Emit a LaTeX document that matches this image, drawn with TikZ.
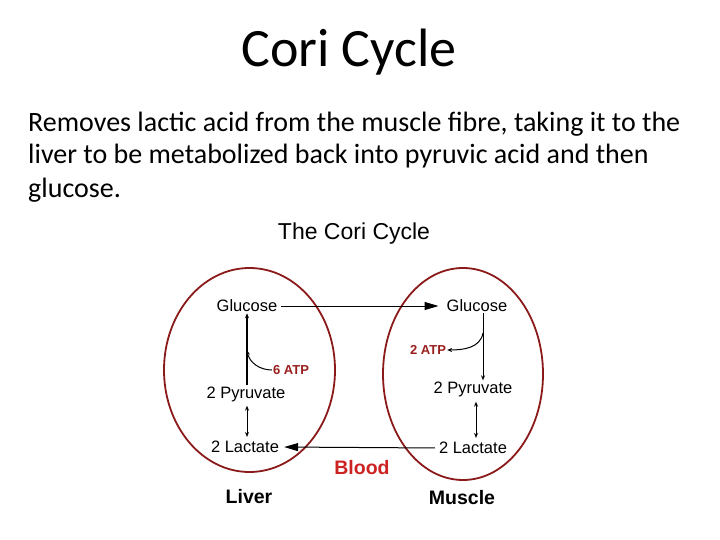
\documentclass[tikz,border=0pt]{standalone}
\usepackage{fontspec}
\setmainfont{Carlito}
\newfontfamily\arialf{Liberation Sans}
\usetikzlibrary{arrows.meta}
\definecolor{ellred}{HTML}{8B1A1A}
\definecolor{atpred}{HTML}{9A1E1E}
\definecolor{bloodred}{HTML}{CC2222}
\begin{document}
\begin{tikzpicture}[x=1pt,y=-1pt,
  lbl/.style={font=\arialf\fontsize{16.5}{18}\selectfont, inner sep=1pt},
  atp/.style={font=\arialf\bfseries\fontsize{13}{15}\selectfont, text=atpred, inner sep=1pt},
  organ/.style={font=\arialf\bfseries\fontsize{19.5}{22}\selectfont, inner sep=1pt},
  cell/.style={draw=ellred, line width=1.8pt},
  bigarrow/.style={-{Triangle[length=14pt,width=8pt]}, line width=1pt},
  smallarrow/.style={-{Stealth[length=5pt,width=4pt]}, line width=1pt},
  dblarrow/.style={{Stealth[length=5pt,width=4pt]}-{Stealth[length=5pt,width=4pt]}, line width=1pt}
]
\useasboundingbox (0,0) rectangle (720,540);
\node[font=\fontsize{54}{60}\selectfont] (title) at (349,52) {Cori Cycle};
\node[anchor=base west, align=left, inner sep=0pt, font=\fontsize{28}{33}\selectfont] (para) at (28,197)
  {Removes lactic acid from the muscle fibre, taking it to the\\liver to be metabolized back into pyruvic acid and then\\glucose.};
\node[font=\arialf\fontsize{23}{25}\selectfont] (dtitle) at (354,234) {The Cori Cycle};

\draw[cell] (249.5,370) ellipse [x radius=85.5, y radius=102];
\draw[cell] (463,374) ellipse [x radius=80, y radius=106];

\node[lbl] (gL) at (247,306) {Glucose};
\node[lbl] (pL) at (246,394) {2 Pyruvate};
\node[lbl] (lL) at (245,447) {2 Lactate};
\node[lbl] (gR) at (477,306) {Glucose};
\node[lbl] (pR) at (473,389) {2 Pyruvate};
\node[lbl] (lR) at (473,448) {2 Lactate};
\node[atp] (atp6) at (291,370) {6 ATP};
\node[atp] (atp2) at (428,350) {2 ATP};
\node[font=\arialf\bfseries\fontsize{19.5}{22}\selectfont, text=bloodred] (blood) at (362,468) {Blood};
\node[organ] (liver) at (249,497) {Liver};
\node[organ] (muscle) at (462,498) {Muscle};

% blood transport
\draw[bigarrow, shorten <=3pt, shorten >=7pt] (gL.east) -- (gR.west);
\draw[bigarrow, shorten <=3pt, shorten >=4pt] (lR.west) -- (lL.east);

% liver
\coordinate (lvL) at (247,350);
\draw[smallarrow, line width=1.6pt] (pL.north -| lvL) -- (gL.south -| lvL);
\draw[smallarrow] (atp6.west) to[out=180, in=-80] (lvL);
\draw[dblarrow] ([yshift=-3pt]pL.south -| lvL) -- ([yshift=3pt]lL.north -| lvL);

% muscle
\coordinate (mvR) at (483,333);
\coordinate (mdR) at (476,0);
\draw[smallarrow] (gR.south -| mvR) -- (pR.north -| mvR);
\draw[smallarrow] (mvR) to[out=-100, in=0] (atp2.east);
\draw[dblarrow] ([yshift=-4pt]pR.south -| mdR) -- ([yshift=3pt]lR.north -| mdR);
\end{tikzpicture}
\end{document}
